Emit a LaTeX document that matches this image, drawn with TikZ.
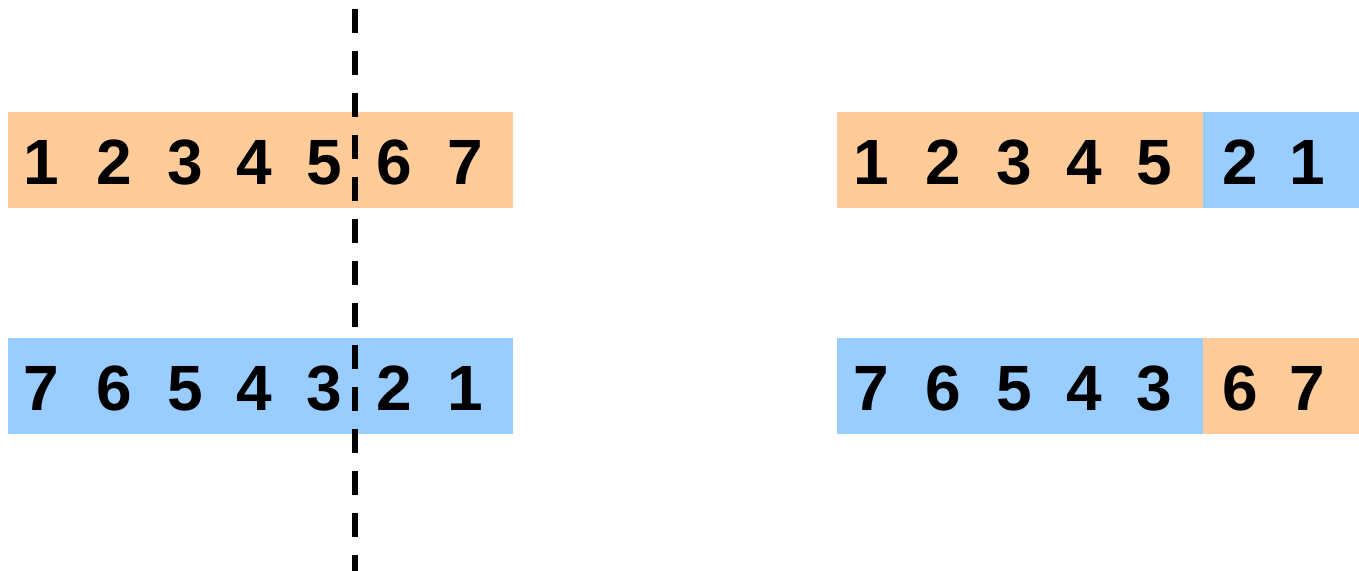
\documentclass[tikz,border=0pt]{standalone}
\usepackage{fontspec}
\setmainfont{Liberation Sans}
\definecolor{orng}{HTML}{FFCC99}
\definecolor{blu}{HTML}{99CCFF}
\begin{document}
\begin{tikzpicture}[x=1pt,y=-1pt,
  cell/.style={inner sep=0pt,outer sep=0pt,anchor=north west},
  dig/.style={inner sep=0pt,anchor=base,font=\fontsize{64}{64}\selectfont\bfseries},
  cut/.style={line width=6pt,dash pattern=on 24pt off 18pt}]
\useasboundingbox (0,0) rectangle (1359,570);
% left bars
\node[cell,fill=orng,minimum width=505pt,minimum height=96pt] (lt) at (8,112) {};
\node[cell,fill=blu,minimum width=505pt,minimum height=96pt] (lb) at (8,338) {};
% right bars
\node[cell,fill=orng,minimum width=366pt,minimum height=96pt] (rta) at (837,112) {};
\node[cell,fill=blu,minimum width=156pt,minimum height=96pt] (rtb) at (1203,112) {};
\node[cell,fill=blu,minimum width=366pt,minimum height=96pt] (rba) at (837,338) {};
\node[cell,fill=orng,minimum width=156pt,minimum height=96pt] (rbb) at (1203,338) {};
% left digits
\foreach \d/\x [count=\i] in {1/41,2/114,3/185,4/254,5/324,6/394,7/465}{
  \node[dig] (lt\i) at (\x,184.5) {\d};}
\foreach \d/\x [count=\i] in {7/41,6/114,5/185,4/254,3/324,2/394,1/465}{
  \node[dig] (lb\i) at (\x,410.5) {\d};}
% right digits
\foreach \d/\x [count=\i] in {1/871,2/943,3/1014,4/1084,5/1154,2/1240,1/1307}{
  \node[dig] (rt\i) at (\x,184.5) {\d};}
\foreach \d/\x [count=\i] in {7/871,6/943,5/1014,4/1084,3/1154,6/1240,7/1307}{
  \node[dig] (rb\i) at (\x,410.5) {\d};}
% cut line
\coordinate (ctop) at (355,9);
\coordinate (cbot) at (355,575);
\draw[cut] (ctop) -- (cbot);
\end{tikzpicture}
\end{document}
